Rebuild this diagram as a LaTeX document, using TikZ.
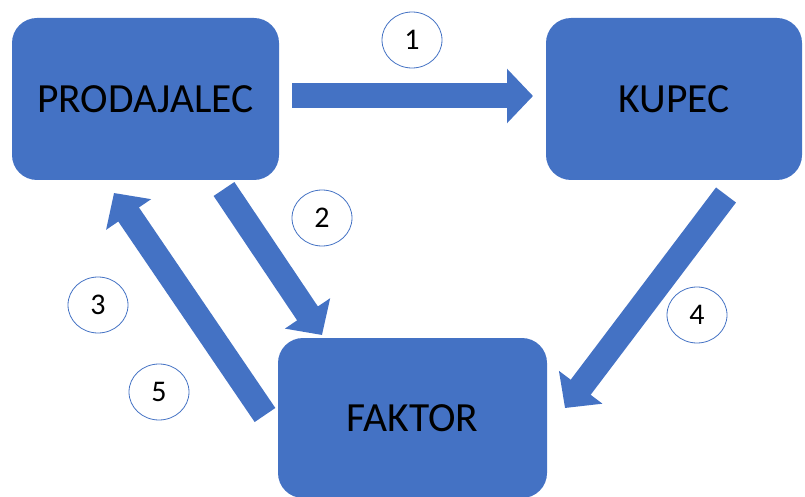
\documentclass[tikz,border=0pt]{standalone}
\usepackage{fontspec}
\setmainfont{Carlito}
\usetikzlibrary{arrows.meta,shapes.geometric}
\definecolor{boxblue}{HTML}{4472C4}

\tikzset{
  box/.style={fill=boxblue, rounded corners=25pt, inner sep=0pt,
    font=\fontsize{41.5}{41.5}\selectfont},
  num/.style={ellipse, draw=boxblue, line width=0.8pt, fill=white,
    minimum width=60pt, minimum height=56pt, inner sep=0pt,
    font=\fontsize{30}{30}\selectfont},
  flow/.style={boxblue, line width=25pt,
    -{Triangle[length=26pt,width=53pt]}}
}

\begin{document}
\begin{tikzpicture}[x=1pt, y=-1pt]
  \useasboundingbox (0,0) rectangle (805,497);

  % Boxes
  \node[box, minimum width=267pt, minimum height=162pt] (P) at (145.5,99) {PRODAJALEC};
  \node[box, minimum width=256pt, minimum height=162pt] (K) at (674,99) {KUPEC};
  \node[box, minimum width=269pt, minimum height=160pt] (F) at (412.5,418) {FAKTOR};

  % Arrow ends
  \coordinate (p1) at (292,96);
  \coordinate (k1) at (533,96);
  \coordinate (p2) at (224,189);
  \coordinate (f2) at (322,335);
  \coordinate (f3) at (265,415);
  \coordinate (p3) at (114,193);
  \coordinate (k4) at (726,195);
  \coordinate (f4) at (565,408);

  \draw[flow] (p1) -- (k1);
  \draw[flow] (p2) -- (f2);
  \draw[flow] (f3) -- (p3);
  \draw[flow] (k4) -- (f4);

  % Step numbers
  \node[num] (n1) at (412,40) {1};
  \node[num] (n2) at (322,218) {2};
  \node[num] (n3) at (98,305) {3};
  \node[num] (n4) at (697,315) {4};
  \node[num] (n5) at (159,392) {5};
\end{tikzpicture}
\end{document}
